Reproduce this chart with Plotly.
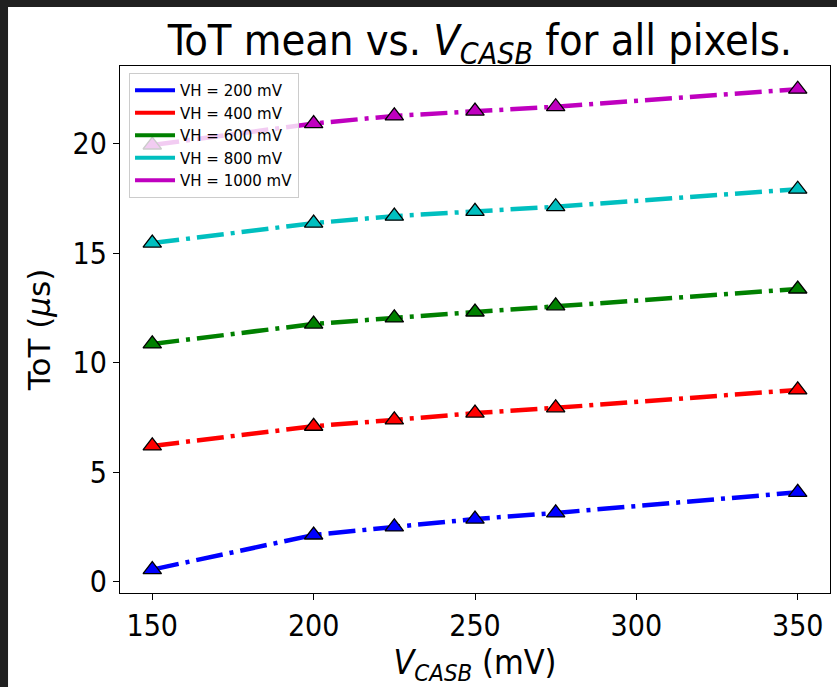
import plotly.graph_objects as go

# V_CASB settings (mV)
vcasb = [150, 200, 225, 250, 275, 350]

# Mean ToT (us) per VH setting
tot_vh200 = [0.55, 2.13, 2.50, 2.86, 3.14, 4.08]
tot_vh400 = [6.20, 7.10, 7.39, 7.70, 7.94, 8.76]
tot_vh600 = [10.86, 11.77, 12.05, 12.32, 12.60, 13.37]
tot_vh800 = [15.47, 16.38, 16.70, 16.92, 17.13, 17.93]
tot_vh1000 = [19.95, 20.93, 21.28, 21.50, 21.70, 22.50]

series_names = ["VH = 200 mV", "VH = 400 mV", "VH = 600 mV", "VH = 800 mV", "VH = 1000 mV"]
series_values = [tot_vh200, tot_vh400, tot_vh600, tot_vh800, tot_vh1000]
series_colors = ["#0000ff", "#ff0000", "#008000", "#00bfbf", "#bf00bf"]

FONT = "DejaVu Sans Condensed, DejaVu Sans"

fig = go.Figure()
for name, vals, col in zip(series_names, series_values, series_colors):
    fig.add_trace(go.Scatter(
        x=vcasb, y=vals, name=name, mode="lines+markers", showlegend=False,
        line=dict(color=col, width=4.5, dash="27px,7px,4px,7px"),
        marker=dict(symbol="triangle-up", size=16, color=col,
                    line=dict(color="black", width=1.3)),
    ))
# legend entries: plain line samples
for name, col in zip(series_names, series_colors):
    fig.add_trace(go.Scatter(
        x=[None], y=[None], name=name, mode="lines",
        line=dict(color=col, width=4), showlegend=True,
    ))

# dark frame around the white canvas
fig.add_shape(type="rect", xref="paper", yref="paper",
              x0=-0.1577, x1=1.02, y0=-0.19, y1=1.112,
              fillcolor="white", line=dict(width=0), layer="below")

axis_common = dict(
    showline=True, linecolor="black", linewidth=1.2, mirror=True,
    ticks="outside", ticklen=6, tickwidth=1.2, tickcolor="black",
    showgrid=False, zeroline=False,
    tickfont=dict(family=FONT, size=30, color="black"),
)

fig.update_layout(
    width=837, height=687,
    margin=dict(l=120, r=7, t=66, b=94),
    paper_bgcolor="#202020", plot_bgcolor="white",
    font=dict(family=FONT, color="black"),
    title=dict(
        text="ToT mean vs. <i>V</i><sub><i>CASB</i></sub> for all pixels.",
        font=dict(family=FONT, size=43, color="black"),
        x=0.507, xref="paper", xanchor="center",
        y=1 - 40 / 687, yref="container", yanchor="middle",
    ),
    xaxis=dict(range=[140, 360], tickvals=[150, 200, 250, 300, 350],
               title=dict(text="<i>V</i><sub><i>CASB</i></sub> (mV)",
                          font=dict(family=FONT, size=34, color="black"), standoff=4),
               **axis_common),
    yaxis=dict(range=[-0.52, 23.56], tickvals=[0, 5, 10, 15, 20],
               title=dict(text="ToT (<i>μ</i>s)",
                          font=dict(family="DejaVu Sans", size=31, color="black"), standoff=12),
               **axis_common),
    legend=dict(
        x=0.0127, y=0.9867, xanchor="left", yanchor="top",
        bgcolor="rgba(255,255,255,0.8)", bordercolor="#cccccc", borderwidth=1,
        font=dict(family="DejaVu Sans", size=15, color="black"),
        itemwidth=40,
    ),
)

fig.write_html("out.html")
